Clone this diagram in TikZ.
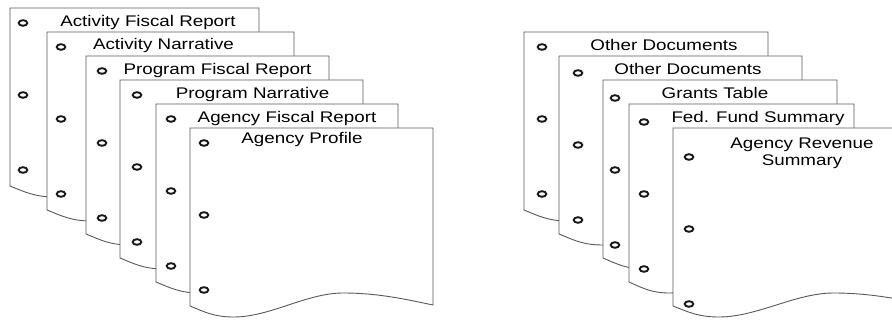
\documentclass[tikz,border=0pt]{standalone}
\usepackage{fontspec}
\setmainfont{Liberation Sans}[FakeStretch=1.22]
\usetikzlibrary{positioning}

\tikzset{
  bordo/.style={draw=black!65, line width=0.9pt, fill=white},
  foro/.style={draw=black!90, line width=1.9pt},
  titolo/.style={inner sep=0pt, anchor=base, text=black, font=\fontsize{15.4}{17}\selectfont}
}

% foglio: x, y (alto), larghezza, dx fori, dy primo foro
\newcommand{\foglio}[5]{%
  \begin{scope}[shift={(#1,#2)}]
    \path[bordo] (0,178) -- (0,0) -- (#3,0) -- (#3,177)
      .. controls (0.9*#3,172) and (0.78*#3,165) .. (0.63*#3,165)
      .. controls (0.48*#3,165) and (0.33*#3,189) .. (0.18*#3,189)
      .. controls (0.1*#3,189) and (0.06*#3,184) .. (0,178) -- cycle;
    \draw[foro] (#4,#5) ellipse (4.3 and 2.8);
    \draw[foro] (#4,#5+72) ellipse (4.3 and 2.8);
    \draw[foro] (#4,#5+147) ellipse (4.3 and 2.8);
  \end{scope}}

\begin{document}
\begin{tikzpicture}[x=1pt, y=-1pt]

  \clip (0,0) rectangle (892,320);

  % --- pila sinistra ---
  \foglio{10}{8}{249}{13}{15}
  \node[titolo] (afr) at (148,26.5) {Activity Fiscal Report};
  \foglio{47}{32}{247}{14}{15}
  \node[titolo] (anarr) at (163.5,49.5) {Activity Narrative};
  \foglio{86}{56}{243}{16}{15}
  \node[titolo] (pfr) at (217.5,74.5) {Program Fiscal Report};
  \foglio{120}{80}{243}{17}{15}
  \node[titolo] (pnarr) at (252.5,98.5) {Program Narrative};
  \foglio{156}{104}{242}{15}{15}
  \node[titolo] (agfr) at (287,122.5) {Agency Fiscal Report};
  \foglio{190}{128}{243}{14}{15}
  \node[titolo] (agprof) at (302,143.5) {Agency Profile};

  % --- pila destra ---
  \foglio{524}{32}{244}{18}{15}
  \node[titolo] (altri1) at (664,50.5) {Other Documents};
  \foglio{559}{56}{243}{19}{17}
  \node[titolo] (altri2) at (688,74.5) {Other Documents};
  \foglio{603}{80}{234}{12}{18}
  \node[titolo] (grants) at (715,98.5) {Grants Table};
  \foglio{629}{104}{225}{15}{18}
  \node[titolo] (fedfund) at (758,122.5) {Fed. Fund Summary};
  \foglio{673}{128}{255}{16}{29}
  \node[titolo, anchor=center, align=center] (revenue) at (802,153.7) {Agency Revenue\\Summary};

\end{tikzpicture}
\end{document}
